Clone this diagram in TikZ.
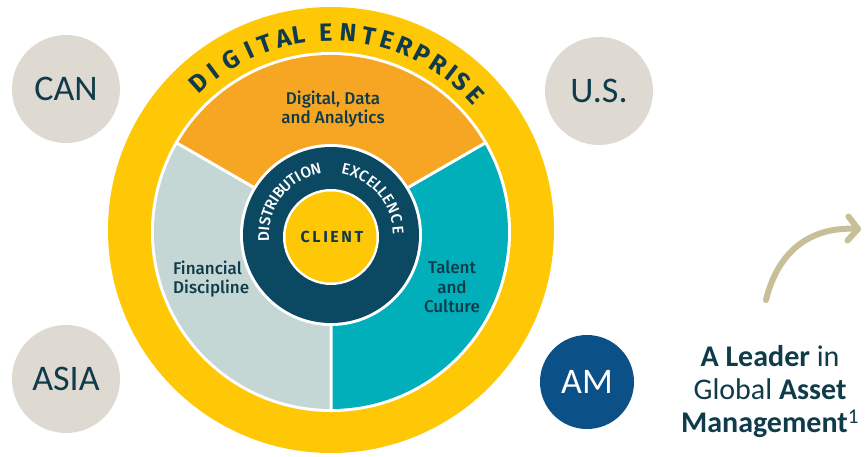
\documentclass[tikz,border=0pt]{standalone}
\usepackage{fontspec}
\setmainfont{Fira Sans}
\newfontfamily\firamed{Fira Sans Medium}
\newfontfamily\calib{Carlito}
\usetikzlibrary{arrows.meta,calc}

\definecolor{yellowC}{HTML}{FFC807}
\definecolor{orangeC}{HTML}{F6A623}
\definecolor{sageC}{HTML}{C4D7D5}
\definecolor{tealC}{HTML}{00AFBA}
\definecolor{navyC}{HTML}{0B4862}
\definecolor{amC}{HTML}{0B5187}
\definecolor{greyC}{HTML}{DEDAD2}
\definecolor{inkC}{HTML}{103B4A}
\definecolor{arrowC}{HTML}{C6BF98}

\begin{document}
\begin{tikzpicture}[x=1pt,y=1pt,
  seglabel/.style={font=\firamed\fontsize{17}{19.5}\selectfont, text=inkC, inner sep=0pt},
  region/.style={circle, minimum size=108pt, inner sep=0pt, fill=greyC, text=inkC,
    font=\calib\fontsize{36}{40}\selectfont},
  outerletter/.style={font=\bfseries\fontsize{25}{25}\selectfont, text=inkC, inner sep=0pt, anchor=base},
  innerletter/.style={font=\firamed\fontsize{15.5}{15.5}\selectfont, text=white, inner sep=0pt, anchor=base}]
\useasboundingbox (0,0) rectangle (867,456);
\fill[white] (0,0) rectangle (867,456);

% centres of the rings
\coordinate (O) at (331,226);
\coordinate (S) at (331,224);
\coordinate (N) at (331,221);
\coordinate (K) at (331,219);

% outer ring and the three segments
\fill[yellowC] (O) circle[radius=223];
\fill[white] (S) circle[radius=180];
\fill[orangeC] (S) -- ++(30:177) arc[start angle=30,end angle=150,radius=177] -- cycle;
\fill[tealC] (S) -- ++(-90:177) arc[start angle=-90,end angle=30,radius=177] -- cycle;
\fill[sageC] (S) -- ++(150:177) arc[start angle=150,end angle=270,radius=177] -- cycle;
\draw[white, line width=3] (S) -- ++(30:180) (S) -- ++(150:180) (S) -- ++(-90:180);

% distribution ring and client core
\fill[white] (N) circle[radius=91];
\fill[navyC] (N) circle[radius=88];
\fill[white] (K) circle[radius=48];
\fill[yellowC] (K) circle[radius=45.5];

% ring lettering
\foreach \ch/\a [count=\i] in {D/132,I/126.5,G/120.5,I/114.5,T/109.5,A/104,L/99.5,
    E/91.5,N/85,T/79,E/73.5,R/68,P/62.5,R/57,I/52.5,S/48.5,E/43}
  \node[outerletter, rotate=\a-90] (de\i) at ($(O)+(\a:189)$) {\ch};

\foreach \ch/\a [count=\i] in {D/181.5,I/174.5,S/168,T/160.5,R/153.5,I/147.5,B/141,U/133,
    T/125.5,I/119.5,O/112,N/103,E/77,X/69,C/61,E/53,L/46,L/39.5,E/32,N/23.5,C/14,E/4.5}
  \node[innerletter, rotate=\a-90] (dx\i) at ($(N)+(\a:62)$) {\ch};

\node[font=\bfseries\fontsize{16}{16}\selectfont\addfontfeature{LetterSpace=16},
  text=inkC, inner sep=0pt] (client) at (332,219) {CLIENT};

% segment labels
\node[seglabel, align=center] (dda) at (333,347) {Digital, Data\\and Analytics};
\node[seglabel, align=left, anchor=west] (fin) at (173,177) {Financial\\Discipline};
\node[seglabel, align=center] (tal) at (452,169) {Talent\\and\\Culture};

% regions
\node[region] (can) at (66,367) {CAN};
\node[region] (us) at (599,365) {U.S.};
\node[region] (asia) at (66,77) {ASIA};
\node[region, fill=amC, text=white, minimum size=94pt] (am) at (587,74) {AM};

% tagline
\node[font=\calib\fontsize{30}{33}\selectfont, text=inkC, align=center, inner sep=0pt] (lead)
  at (770,64) {\textbf{A Leader} in\\Global \textbf{Asset}\\\textbf{Management}\textsuperscript{1}};

% curved arrow
\coordinate (a0) at (766,156);
\coordinate (a1) at (861,227);
\draw[arrowC, line width=6, line cap=round,
  -{Straight Barb[length=10pt,width=24pt,round]}]
  (a0) .. controls (778,205) and (810,229) .. (a1);
\end{tikzpicture}
\end{document}
